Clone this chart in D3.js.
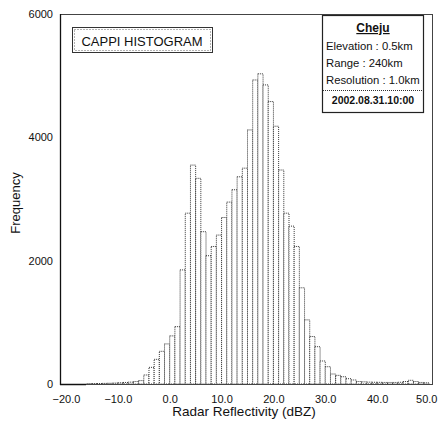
<!DOCTYPE html>
<html><head><meta charset="utf-8">
<script src="https://cdn.jsdelivr.net/npm/d3@7"></script>
<style>
html,body{margin:0;padding:0;background:#fff;}
svg text{font-family:"Liberation Sans",Arial,sans-serif;fill:#111;}
</style></head>
<body>
<svg id="chart" width="438" height="425"></svg>
<script>
// bin start (dBZ) for 1-dBZ bins
const binStarts = d3.range(-20, 50, 1);
const frequency = [
  0,0,0,0,3,5,8,10,12,15,      // -20 .. -11
  20,25,30,40,55,146,270,400,530,650, // -10 .. -1
  780,930,1850,2770,3550,3335,2470,2080,2230,2415, // 0 .. 9
  2700,2950,3150,3360,3500,4120,4930,5030,4850,4580, // 10 .. 19
  4180,3470,2770,2560,2230,1560,1040,770,605,373,   // 20 .. 29
  280,162,140,118,86,65,40,35,30,28,                // 30 .. 39
  27,25,25,25,28,40,60,40,25,20                     // 40 .. 49
];
const xTicks = [-20, -10, 0, 10, 20, 30, 40, 50];
const yTicks = [0, 2000, 4000, 6000];
const infoLines = ["Elevation : 0.5km", "Range : 240km", "Resolution : 1.0km"];
const stationName = "Cheju";
const dateLabel = "2002.08.31.10:00";
const chartTitle = "CAPPI HISTOGRAM";

const svg = d3.select("#chart");
const x = d3.scaleLinear().domain([-20, 50]).range([66, 429]);
const y = d3.scaleLinear().domain([0, 6000]).range([384, 14]);

// bars
svg.append("g").selectAll("rect").data(binStarts.map((b,i)=>({b, v:frequency[i]})).filter(d=>d.v>0))
  .join("rect")
  .attr("x", d=>x(d.b)).attr("width", d=>x(d.b+1)-x(d.b))
  .attr("y", d=>y(d.v)).attr("height", d=>y(0)-y(d.v))
  .attr("fill", "#fff").attr("stroke", "#333").attr("stroke-width", 1)
  .attr("stroke-dasharray", "1,1");

// frame
svg.append("rect").attr("x", 60.5).attr("y", 14.5).attr("width", 372).attr("height", 370)
  .attr("fill", "none").attr("stroke", "#444").attr("stroke-width", 1);
svg.append("line").attr("x1", 60.5).attr("x2", 60.5).attr("y1", 14).attr("y2", 385)
  .attr("stroke", "#111").attr("stroke-width", 1.3);
svg.append("line").attr("x1", 60).attr("x2", 86).attr("y1", 384.5).attr("y2", 384.5)
  .attr("stroke", "#111").attr("stroke-width", 1.5);

// axes
const xAxis = svg.append("g").attr("transform", "translate(0,392)")
  .call(d3.axisBottom(x).tickValues(xTicks).tickSize(0).tickFormat(d3.format(".1f")));
xAxis.select(".domain").remove();
xAxis.selectAll("text").attr("font-size", 11).attr("dy", "0.71em")
  .attr("text-anchor", d => d === 50 ? "end" : "middle")
  .attr("x", d => d === 50 ? 8 : 0);

const yAxis = svg.append("g").attr("transform", "translate(53,0)")
  .call(d3.axisLeft(y).tickValues(yTicks).tickSize(0).tickFormat(d3.format("d")));
yAxis.select(".domain").remove();
yAxis.selectAll("text").attr("font-size", 11).attr("x", 0);

svg.append("text").attr("x", 244).attr("y", 416).attr("text-anchor", "middle")
  .attr("font-size", 13.5).text("Radar Reflectivity (dBZ)");
svg.append("text").attr("transform", "translate(20,203) rotate(-90)").attr("text-anchor", "middle")
  .attr("font-size", 13).text("Frequency");

// title box
svg.append("rect").attr("x", 72.5).attr("y", 27.5).attr("width", 140).attr("height", 25)
  .attr("fill", "#fff").attr("stroke", "#333").attr("stroke-width", 1);
svg.append("rect").attr("x", 74.5).attr("y", 29.5).attr("width", 136).attr("height", 21)
  .attr("fill", "none").attr("stroke", "#666").attr("stroke-width", 1).attr("stroke-dasharray", "1,2");
svg.append("text").attr("x", 142).attr("y", 46).attr("text-anchor", "middle")
  .attr("font-size", 13).text(chartTitle);

// info box
svg.append("rect").attr("x", 322.5).attr("y", 15.5).attr("width", 101).attr("height", 97)
  .attr("fill", "#fff").attr("stroke", "#222").attr("stroke-width", 1.2);
svg.append("text").attr("x", 373).attr("y", 32).attr("text-anchor", "middle")
  .attr("font-size", 12).attr("font-weight", "bold").attr("text-decoration", "underline")
  .text(stationName);
svg.append("g").selectAll("text").data(infoLines).join("text")
  .attr("x", 326).attr("y", (d,i)=>50 + i*17).attr("font-size", 11.3).text(d=>d);
svg.append("line").attr("x1", 323).attr("x2", 423).attr("y1", 90.5).attr("y2", 90.5)
  .attr("stroke", "#333").attr("stroke-dasharray", "1,1");
svg.append("text").attr("x", 373).attr("y", 104).attr("text-anchor", "middle")
  .attr("font-size", 10.5).attr("font-weight", "bold").text(dateLabel);
</script>
</body></html>
